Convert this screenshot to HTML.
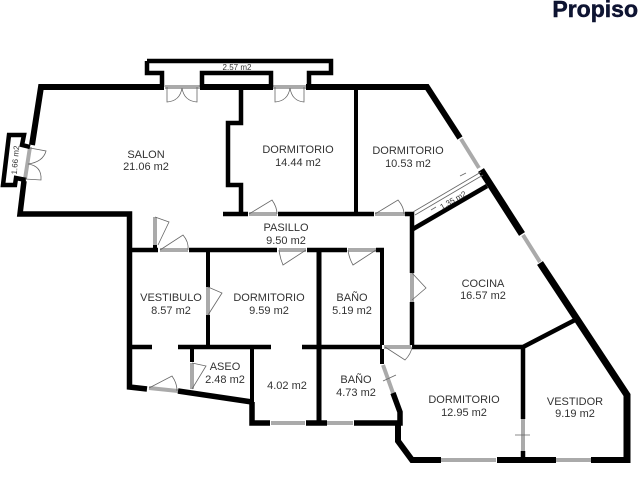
<!DOCTYPE html>
<html><head><meta charset="utf-8"><style>
html,body{margin:0;padding:0;background:#fff;width:640px;height:480px;overflow:hidden}
svg{display:block}
text{font-family:"Liberation Sans",sans-serif;fill:#333;text-anchor:middle}
</style></head><body>
<svg width="640" height="480" viewBox="0 0 640 480" xmlns="http://www.w3.org/2000/svg">
<defs><filter id="b" filterUnits="userSpaceOnUse" x="0" y="0" width="640" height="480"><feGaussianBlur stdDeviation="0.35"/></filter></defs>
<rect width="640" height="480" fill="#fff"/>
<g filter="url(#b)">
<!-- windows and door leaves (grey) -->
<g fill="none" stroke="#aaa" stroke-width="4">
<path d="M165 87 H200 M273 87 H306"/>
<path d="M30 147 L25 179"/>
<path d="M461 139 L479 168 M523 235 L540 262"/>
<path d="M155 217 V245 M160 250 H188 M249 214 H277 M375 214 H405 M279 250 H306 M348 250 H376"/>
<path d="M208 287 V315 M192 363 V389 M149 388 L178 391"/>
<path d="M412 273 V302 M384 347 H411 M383 365 L393 393 M523 419 V451"/>
<path d="M271 423 H305 M327 423 H353 M441 460 H496 M556 460 H591"/>
</g>
<g fill="none" stroke="#000" stroke-linejoin="miter" stroke-linecap="butt">
<path stroke-width="6" d="M32 145 L41 87 H164 M200 87 H273 M306 87 H427 L460 138"/>
<path stroke-width="7" d="M481 170 L522 234 M540 263 L627 395 V463"/>
<path stroke-width="6" d="M630 460 H591 M556 460 H497 M441 460 H412 L398 441 V423"/>
<path stroke-width="5.5" d="M24 181 L20 214 H129.500 V387 L147 389 M178 391 L252 402"/>
<path stroke-width="4.5" d="M147 61 H331 V73 H309 V87 M162 87 V73 H147 V61 M202 87 V73 H271 V87"/>
<path stroke-width="4.5" d="M30 147 L22 145 L24 135 H9 L3 185 H15 L16 178 L26 180"/>
<path stroke-width="4.500" d="M241 88 V123 H228 V185 H241 V213"/>
<path stroke-width="4.500" d="M223 214 H248 M278 214 H374 M405 214 H412 V273 M412 302 V345"/>
<path stroke-width="4" d="M356 88 V213"/>
<path stroke-width="4.500" d="M413 229 L487 186"/>
<path stroke-width="4.500" d="M127 250 H158 M189 250 H277 M307 250 H347 M376 250 H384"/>
<path stroke-width="4" d="M382 250 V345 M382 349 V364"/>
<path stroke-width="5" d="M319 250 V423"/>
<path stroke-width="4" d="M208 250 V287 M208 315 V347"/>
<path stroke-width="4.500" d="M132 347 H152 M178 347 H271 M302 347 H382 M412 347 H523 L575 320"/>
<path stroke-width="4.500" d="M523 347 V419 M523 451 V460"/>
<path stroke-width="4" d="M192 347 V362"/>
<path stroke-width="4" d="M252 347 V402"/>
<path stroke-width="5.500" d="M252 402 V423 H270 M306 423 H327 M354 423 H400 V412 L393 393"/>
<path stroke-width="4" d="M155 245 V250"/>
</g>
<!-- door swings -->
<g fill="none" stroke="#666" stroke-width="0.8">
<path d="M167 87 V102 Q180 101 182 88 Q184 101 197 102 V87"/>
<path d="M275 87 V102 Q288 101 290 88 Q292 101 304 102 V87"/>
<path d="M30 148 L46 151 Q43 162 28 164 Q42 166 41 180 L25 179"/>
<path d="M155 217 L169 222 L158 245"/>
<path d="M160 250 L183 235 Q189 242 188 250"/>
<path d="M249 214 L272 200 Q277 207 277 214"/>
<path d="M375 214 L398 200 Q404 207 404 214"/>
<path d="M306 250 L283 265 Q280 258 279 250"/>
<path d="M376 250 L353 265 Q349 258 348 250"/>
<path d="M208 287 L222 293 L208 315"/>
<path d="M192 363 L206 366 L192 389"/>
<path d="M149 388 L172 376 Q177 383 177 391"/>
<path d="M412 273 L426 288 L412 300"/>
<path d="M385 347 L405 360 Q411 354 412 347"/>
<path d="M383 381 L396 375 M515 435 H530"/>
<path d="M413 212 L481 172 M415 215 L483 175"/>
<path d="M431 210 L436 207 M460 176 L466 173"/>
</g>
<g font-size="11">
<text x="146" y="158">SALON</text><text x="146" y="170">21.06 m2</text>
<text x="298" y="153">DORMITORIO</text><text x="298" y="166">14.44 m2</text>
<text x="408" y="154">DORMITORIO</text><text x="408" y="167">10.53 m2</text>
<text x="286" y="231">PASILLO</text><text x="286" y="244">9.50 m2</text>
<text x="171" y="301">VESTIBULO</text><text x="171" y="314">8.57 m2</text>
<text x="269" y="301">DORMITORIO</text><text x="269" y="314">9.59 m2</text>
<text x="352" y="301">BAÑO</text><text x="352" y="314">5.19 m2</text>
<text x="483" y="287">COCINA</text><text x="483" y="299">16.57 m2</text>
<text x="225" y="370">ASEO</text><text x="225" y="383">2.48 m2</text>
<text x="287" y="389">4.02 m2</text>
<text x="356" y="383">BAÑO</text><text x="356" y="396">4.73 m2</text>
<text x="464" y="403">DORMITORIO</text><text x="464" y="416">12.95 m2</text>
<text x="575" y="405">VESTIDOR</text><text x="575" y="417">9.19 m2</text>
</g>
<text x="237" y="70" font-size="8">2.57 m2</text>
<text font-size="8" transform="translate(15 160) rotate(-85)" y="3">1.66 m2</text>
<text font-size="8" transform="translate(453 200) rotate(-30)" y="3">1.35 m2</text>
<text x="638" y="17" font-size="23" font-weight="bold" stroke="#0e1230" stroke-width="0.5" style="text-anchor:end;fill:#0e1230">Propiso</text>
</g>
</svg>
</body></html>
